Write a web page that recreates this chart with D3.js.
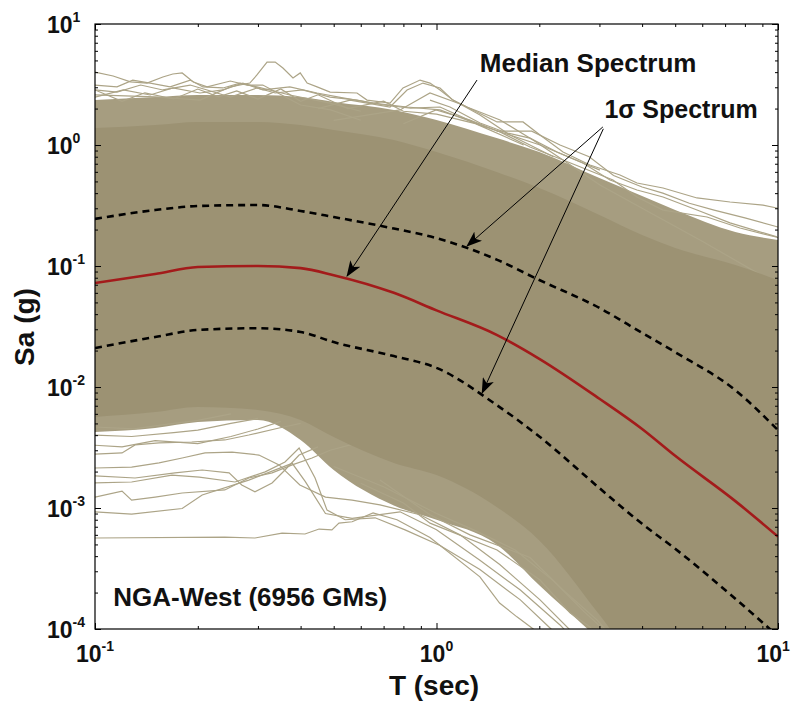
<!DOCTYPE html>
<html>
<head>
<meta charset="utf-8">
<script src="https://cdn.jsdelivr.net/npm/d3@7"></script>
<style>
body { margin: 0; background: #fff; }
text { font-family: "Liberation Sans", Arial, sans-serif; font-weight: bold; fill: #111; }
</style>
</head>
<body>
<div id="chart"></div>
<script>
// periods (sec) used for the summary curves and the band of records
const periods = [0.1, 0.15, 0.2, 0.3, 0.4, 0.5, 0.75, 1, 1.5, 2, 3, 4, 5, 7.5, 10];
const medianSa = [0.0724, 0.086, 0.098, 0.100, 0.096, 0.084, 0.060, 0.043, 0.027, 0.0171, 0.0080, 0.0045, 0.0027, 0.00114, 0.00058];
const plusSigmaSa = [0.245, 0.29, 0.313, 0.319, 0.285, 0.254, 0.204, 0.170, 0.113, 0.0766, 0.045, 0.028, 0.0194, 0.0094, 0.0044];
const minusSigmaSa = [0.021, 0.0259, 0.0296, 0.0306, 0.0285, 0.0235, 0.0180, 0.0144, 0.0071, 0.0039, 0.00146, 0.00074, 0.00046, 0.000178, 0.000087];

// where the 6956 records pack solid, and where they thin out
const coreTop = [1.38, 1.46, 1.55, 1.55, 1.46, 1.33, 1.10, 0.875, 0.598, 0.441, 0.264, 0.18, 0.141, 0.102, 0.0766];
const coreBottom = [0.00565, 0.00621, 0.00684, 0.00646, 0.00534, 0.00386, 0.00236, 0.00187, 0.00102, 0.00054, 0.000131, 0.0000458, 0.0000259, 0.00001, 0.0000047];
const fringeTop = [2.35, 2.49, 2.59, 2.59, 2.49, 2.27, 1.95, 1.61, 1.14, 0.875, 0.533, 0.379, 0.29, 0.191, 0.164];
const fringeBottom = [0.00425, 0.00458, 0.00514, 0.00534, 0.00365, 0.00206, 0.00105, 0.0008, 0.0005, 0.00023, 0.0000812, 0.0000372, 0.0000214, 0.0000082, 0.0000039];

// single records that stand out of the band, [T, Sa]
const topLine1 = [[0.1,4.01],[0.113,3.72],[0.127,3.32],[0.142,3.25],[0.158,3.65],[0.169,3.86],[0.18,3.94],[0.194,3.32],[0.213,3.02],[0.249,3.38],[0.279,3.13],[0.31,3.13],[0.4,2.14],[0.49,1.95],[0.6,1.6]];
const topLine2 = [[0.1,2.6],[0.15,2.5],[0.203,2.35],[0.249,3.02],[0.284,3.25],[0.298,3.79],[0.319,4.85],[0.337,4.85],[0.355,4.33],[0.38,3.58],[0.399,3.94],[0.418,3.25],[0.447,3.02],[0.488,2.74],[0.585,2.69],[0.626,2.35],[0.731,2.22],[0.798,2.96],[0.895,3.44],[0.957,3.25],[1.024,2.85],[1.117,2.35],[1.228,2.06],[1.535,1.61],[1.917,1.10],[2.347,0.751],[3.01,0.467],[4,0.3],[6,0.16],[10,0.07]];
const topLine3 = [[0.5,1.6],[0.782,1.95],[0.957,2.69],[1.195,2.14],[1.504,1.55],[1.792,1.55],[2.01,1.21],[2.347,0.875],[2.815,0.684],[3.446,0.565],[3.865,0.485],[4.606,0.441],[5.793,0.365],[7.236,0.338],[9.04,0.319],[10,0.30]];
const topLine4 = [[0.8,1.5],[0.997,1.95],[1.253,1.61],[1.535,1.28],[1.878,0.963],[2.347,0.751],[3.287,0.514],[3.865,0.372],[4.606,0.29],[6.196,0.254],[7.739,0.206],[10,0.172]];
const topLine5 = [[0.1,3.13],[0.116,3.02],[0.129,3.44],[0.145,3.25],[0.166,3.02],[0.19,3.44],[0.207,3.02],[0.237,2.96],[0.266,3.25],[0.298,3.02],[0.372,2.59],[0.488,2.22],[0.6,1.9]];
const topLine6 = [[0.45,2.0],[0.558,2.35],[0.731,2.06],[0.82,2.85],[0.913,3.25],[1.024,2.96],[1.117,2.35],[1.341,1.77],[1.641,1.21],[2.2,0.8]];
const topLine7 = [[0.1,2.85],[0.12,2.3],[0.14,2.7],[0.17,2.4],[0.2,2.9],[0.23,2.5],[0.26,2.8],[0.3,2.4],[0.35,2.9],[0.4,2.3],[0.45,2.6],[0.55,2.0],[0.7,2.3],[0.8,1.9],[1.0,1.8],[1.3,1.5],[1.8,1.0]];
const topLine8 = [[0.957,2.35],[1.095,2.06],[1.341,1.52],[1.609,1.256],[1.878,1.14],[2.254,0.875],[2.685,0.71],[3.221,0.514],[3.865,0.425],[4.606,0.372],[5.793,0.29],[7.236,0.227],[9.93,0.174]];
const topLine9 = [[0.1,2.49],[0.121,2.85],[0.145,2.59],[0.169,2.96],[0.203,2.69],[0.237,2.85],[0.271,3.25],[0.31,2.85],[0.372,3.02],[0.447,2.69],[0.532,2.45],[0.652,2.22],[0.82,2.06],[1.024,1.95],[1.4,1.4]];
const topLine10 = [[0.1,2.85],[0.116,2.74],[0.136,3.13],[0.158,2.85],[0.19,3.13],[0.213,2.85],[0.249,2.49],[0.298,2.96],[0.337,2.69],[0.405,2.85],[0.488,2.49],[0.585,2.35],[0.70,2.14],[0.84,2.02],[1.024,2.06],[1.341,1.46],[2.01,1.0],[3.01,0.62]];
const topLine11 = [[1.5,1.3],[1.9,1.3],[2.3,1.0],[2.8,0.8],[3.3,0.56],[4.0,0.45],[4.6,0.4],[5.5,0.33],[6.5,0.29],[8,0.25],[10,0.21]];
const bottomLine1 = [[0.1,0.000565],[0.24,0.000575],[0.294,0.000565],[0.353,0.00062],[0.412,0.00061],[0.453,0.00067],[0.494,0.00066],[0.518,0.00075],[0.566,0.00077],[0.652,0.00091],[0.766,0.0008],[0.957,0.00057],[1.34,0.00027],[1.53,0.000164],[1.72,0.000126],[1.92,0.0001],[2.3,0.00006]];
const bottomLine2 = [[0.1,0.00093],[0.128,0.00089],[0.18,0.00099],[0.206,0.00128],[0.282,0.0017],[0.378,0.00234],[0.413,0.00165],[0.473,0.0009],[0.566,0.00082],[0.782,0.00093],[1.0,0.00066],[1.34,0.00037],[1.76,0.00021],[2.3,0.000108],[2.8,0.00006]];
const bottomLine3 = [[0.1,0.00123],[0.12,0.00138],[0.128,0.00116],[0.15,0.00123],[0.18,0.00133],[0.24,0.00141],[0.282,0.00177],[0.33,0.00195],[0.378,0.00227],[0.432,0.00259],[0.488,0.003],[0.6,0.0035]];
const bottomLine4 = [[0.1,0.00161],[0.128,0.00164],[0.168,0.00187],[0.202,0.0018],[0.257,0.00164],[0.315,0.00199],[0.36,0.0024],[0.396,0.00313],[0.441,0.00177],[0.478,0.00096],[0.54,0.0008],[0.661,0.00083],[0.809,0.00066],[1.024,0.00049],[1.34,0.00031],[1.76,0.000174],[2.15,0.000102],[2.6,0.00006]];
const bottomLine5 = [[0.1,0.00214],[0.128,0.00218],[0.154,0.00236],[0.18,0.00259],[0.21,0.00285],[0.252,0.0029],[0.302,0.00274],[0.346,0.00227],[0.398,0.00155],[0.473,0.00123],[0.566,0.00116],[0.683,0.00106],[0.895,0.00088],[1.172,0.0006],[1.535,0.00034],[2.01,0.000174],[2.46,0.0000982],[3,0.00006]];
const bottomLine6 = [[0.1,0.00279],[0.12,0.00285],[0.131,0.00332],[0.154,0.00345],[0.192,0.00351],[0.24,0.00365],[0.282,0.00401],[0.346,0.00458],[0.4,0.005]];
const bottomLine7 = [[0.1,0.00184],[0.131,0.00177],[0.1715,0.00195],[0.206,0.00206],[0.247,0.00195],[0.269,0.00155],[0.294,0.00136],[0.33,0.00161],[0.36,0.00206],[0.396,0.00274],[0.45,0.0032]];
const bottomLine8 = [[0.683,0.0017],[0.957,0.00088],[1.253,0.0006],[1.878,0.00039],[2.347,0.00021],[2.95,0.000119],[3.33,0.00008]];
const bottomLine9 = [[0.6,0.0016],[0.8,0.0011],[0.957,0.00075],[1.504,0.00045],[2.01,0.000254],[2.46,0.000136],[2.815,0.000104],[3.1,0.00007]];
const bottomLine10 = [[0.1,0.00467],[0.13,0.0045],[0.16,0.0049],[0.2,0.0053],[0.25,0.006]];
const bottomLine11 = [[0.1,0.004],[0.128,0.0039],[0.17,0.0042],[0.2,0.0044],[0.25,0.005],[0.3,0.0055]];
const bottomLine12 = [[0.1,0.0033],[0.12,0.0032],[0.15,0.0036],[0.2,0.0034],[0.25,0.0039],[0.3,0.0045],[0.35,0.0052]];
const bottomLine13 = [[0.5,0.0022],[0.7,0.0015],[1.0,0.0009],[1.3,0.00065],[1.7,0.00045],[2.2,0.00025],[2.7,0.00014],[3.2,0.00009]];
const outliers = [topLine1, topLine2, topLine3, topLine4, topLine5, topLine6, topLine7, topLine8, topLine9, topLine10, topLine11,
    bottomLine1, bottomLine2, bottomLine3, bottomLine4, bottomLine5, bottomLine6, bottomLine7, bottomLine8, bottomLine9,
    bottomLine10, bottomLine11, bottomLine12, bottomLine13];

// tick labels are powers of ten
const xTickExps = [-1, 0, 1];
const yTickExps = [-4, -3, -2, -1, 0, 1];

// arrows: from label to curve, [T, Sa]
const arrows = [
    {from: [1.314, 3.44], to: [0.547, 0.0826]},
    {from: [3.07, 1.41], to: [1.228, 0.146]},
    {from: [3.08, 1.36], to: [1.36, 0.0089]}
];

const width = 792;
const height = 704;
const margin = {top: 24, right: 14, bottom: 75, left: 95};

const x = d3.scaleLog().domain([0.1, 10]).range([margin.left, width - margin.right]);
const y = d3.scaleLog().domain([1e-4, 10]).range([height - margin.bottom, margin.top]);

const svg = d3.select('#chart')
    .append('svg')
        .attr('width', width)
        .attr('height', height);

const defs = svg.append('defs');
defs.append('clipPath')
    .attr('id', 'plotClip')
    .append('rect')
        .attr('x', margin.left)
        .attr('y', margin.top)
        .attr('width', x.range()[1] - margin.left)
        .attr('height', y.range()[0] - margin.top);

defs.append('marker')
    .attr('id', 'arrowHead')
    .attr('viewBox', '0 0 16 12')
    .attr('refX', 15)
    .attr('refY', 6)
    .attr('markerWidth', 16)
    .attr('markerHeight', 12)
    .attr('markerUnits', 'userSpaceOnUse')
    .attr('orient', 'auto')
    .append('path')
        .attr('d', 'M0,0 L16,6 L0,12 L4,6 Z')
        .attr('fill', '#000');

const plot = svg.append('g').attr('clip-path', 'url(#plotClip)');

// the band of records
const band = (top, bottom) => d3.area()
    .x((d, i) => x(periods[i]))
    .y0((d, i) => y(bottom[i]))
    .y1((d, i) => y(top[i]))
    .curve(d3.curveMonotoneX);

plot.append('path')
    .datum(periods)
    .attr('d', band(fringeTop, fringeBottom))
    .attr('fill', '#a69d80');

const recordLine = d3.line()
    .x(d => x(d[0]))
    .y(d => y(d[1]));

plot.selectAll('.record')
    .data(outliers)
    .enter()
        .append('path')
            .attr('class', 'record')
            .attr('d', recordLine)
            .attr('fill', 'none')
            .attr('stroke', '#aca487')
            .attr('stroke-width', 1.2);

plot.append('path')
    .datum(periods)
    .attr('d', band(coreTop, coreBottom))
    .attr('fill', '#9c9273');

// median and +/- one sigma
const specLine = d3.line()
    .x((d, i) => x(periods[i]))
    .y(d => y(d))
    .curve(d3.curveMonotoneX);

[plusSigmaSa, minusSigmaSa].forEach(function(s){
    plot.append('path')
        .datum(s)
        .attr('d', specLine)
        .attr('fill', 'none')
        .attr('stroke', '#000')
        .attr('stroke-width', 2.6)
        .attr('stroke-dasharray', '7,5');
});

plot.append('path')
    .datum(medianSa)
    .attr('d', specLine)
    .attr('fill', 'none')
    .attr('stroke', '#a31b1b')
    .attr('stroke-width', 2.6);

// ticks on all four sides, pointing in
const xMajor = xTickExps.map(e => Math.pow(10, e));
const yMajor = yTickExps.map(e => Math.pow(10, e));
const minorOf = (majors) => {
    let m = [];
    majors.slice(0, -1).forEach(function(v){
        for (let k = 2; k < 10; k++) m.push(v * k);
    });
    return m;
};
const xMinor = minorOf(xMajor);
const yMinor = minorOf(yMajor);

const bottomY = y.range()[0];
const rightX = x.range()[1];

function tickGroup(axis, tx, ty){
    const g = svg.append('g')
        .attr('transform', `translate(${tx}, ${ty})`)
        .call(axis);
    g.select('.domain').remove();
    g.selectAll('line').attr('stroke', '#000');
}

tickGroup(d3.axisBottom(x).tickValues(xMinor).tickSize(-3).tickFormat(''), 0, bottomY);
tickGroup(d3.axisBottom(x).tickValues(xMajor).tickSize(-6).tickFormat(''), 0, bottomY);
tickGroup(d3.axisTop(x).tickValues(xMinor).tickSize(-3).tickFormat(''), 0, margin.top);
tickGroup(d3.axisTop(x).tickValues(xMajor).tickSize(-6).tickFormat(''), 0, margin.top);
tickGroup(d3.axisLeft(y).tickValues(yMinor).tickSize(-3).tickFormat(''), margin.left, 0);
tickGroup(d3.axisLeft(y).tickValues(yMajor).tickSize(-6).tickFormat(''), margin.left, 0);
tickGroup(d3.axisRight(y).tickValues(yMinor).tickSize(-3).tickFormat(''), rightX, 0);
tickGroup(d3.axisRight(y).tickValues(yMajor).tickSize(-6).tickFormat(''), rightX, 0);

// frame
svg.append('rect')
    .attr('x', margin.left)
    .attr('y', margin.top)
    .attr('width', rightX - margin.left)
    .attr('height', bottomY - margin.top)
    .attr('fill', 'none')
    .attr('stroke', '#000')
    .attr('stroke-width', 1.2);

// tick labels 10^n
function powerLabel(sel){
    sel.style('font-size', '23px')
        .each(function(d){
            const t = d3.select(this);
            t.append('tspan').text('10');
            t.append('tspan').attr('dy', -11).style('font-size', '14px').text(d);
        });
}

svg.selectAll('.xlab')
    .data(xTickExps)
    .enter()
        .append('text')
            .attr('class', 'xlab')
            .attr('x', d => x(Math.pow(10, d)))
            .attr('y', bottomY + 33)
            .attr('text-anchor', 'middle')
            .call(powerLabel);

// keep the last label inside the page
svg.selectAll('.xlab').each(function(){
    const b = this.getBBox();
    if (b.x + b.width > width - 2) {
        d3.select(this).attr('x', +d3.select(this).attr('x') - (b.x + b.width - width + 2));
    }
});

svg.selectAll('.ylab')
    .data(yTickExps)
    .enter()
        .append('text')
            .attr('class', 'ylab')
            .attr('x', 47)
            .attr('y', d => y(Math.pow(10, d)) + 9)
            .attr('text-anchor', 'start')
            .call(powerLabel);

// axis titles
svg.append('text')
    .attr('x', 434)
    .attr('y', 695)
    .attr('text-anchor', 'middle')
    .style('font-size', '28px')
    .text('T (sec)');

svg.append('text')
    .attr('transform', 'translate(34, 327) rotate(-90)')
    .attr('text-anchor', 'middle')
    .style('font-size', '28px')
    .text('Sa (g)');

// annotations
svg.selectAll('.arrow')
    .data(arrows)
    .enter()
        .append('line')
            .attr('class', 'arrow')
            .attr('x1', d => x(d.from[0]))
            .attr('y1', d => y(d.from[1]))
            .attr('x2', d => x(d.to[0]))
            .attr('y2', d => y(d.to[1]))
            .attr('stroke', '#000')
            .attr('stroke-width', 1)
            .attr('marker-end', 'url(#arrowHead)');

svg.append('text')
    .attr('x', x(2.78))
    .attr('y', y(4.0))
    .attr('text-anchor', 'middle')
    .style('font-size', '26px')
    .text('Median Spectrum');

svg.append('text')
    .attr('x', x(5.2))
    .attr('y', y(1.67))
    .attr('text-anchor', 'middle')
    .style('font-size', '25px')
    .text('1σ Spectrum');

svg.append('text')
    .attr('x', x(0.113))
    .attr('y', y(0.000155))
    .attr('text-anchor', 'start')
    .style('font-size', '26px')
    .text('NGA-West (6956 GMs)');
</script>
</body>
</html>
